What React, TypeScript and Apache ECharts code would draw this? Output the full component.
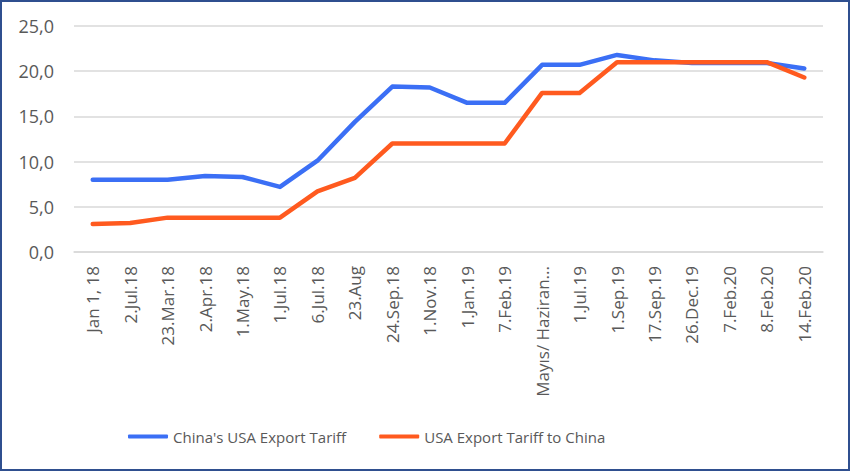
import React, { useEffect, useRef } from "react";
import * as echarts from "echarts";

const categories = [
  "Jan 1, 18", "2.Jul.18", "23.Mar.18", "2.Apr.18", "1.May.18", "1.Jul.18",
  "6.Jul.18", "23.Aug", "24.Sep.18", "1.Nov.18", "1.Jan.19", "7.Feb.19",
  "Mayıs/ Haziran...", "1.Jul.19", "1.Sep.19", "17.Sep.19", "26.Dec.19",
  "7.Feb.20", "8.Feb.20", "14.Feb.20",
];
const chinaTariff = [8.0, 8.0, 8.0, 8.4, 8.3, 7.2, 10.1, 14.4, 18.3, 18.2, 16.5, 16.5, 20.7, 20.7, 21.8, 21.2, 20.9, 20.9, 20.9, 20.3];
const usaTariff = [3.1, 3.2, 3.8, 3.8, 3.8, 3.8, 6.7, 8.2, 12.0, 12.0, 12.0, 12.0, 17.6, 17.6, 21.0, 21.0, 21.0, 21.0, 21.0, 19.3];
const seriesNames = ["China's USA Export Tariff", "USA Export Tariff to China"];

const FONT = "'Open Sans', sans-serif";

export default function App() {
  const ref = useRef<HTMLDivElement>(null);
  useEffect(() => {
    document.body.style.margin = "0";
    const chart = echarts.init(ref.current!, null, { renderer: "svg" });
    chart.setOption({
      animation: false,
      grid: { left: 74, right: 27, top: 26, bottom: 219, containLabel: false },
      legend: {
        bottom: 22,
        left: 123,
        icon: "roundRect",
        itemWidth: 40,
        itemHeight: 4,
        itemGap: 33,
        textStyle: { fontFamily: FONT, fontSize: 15, color: "#595959" },
        data: seriesNames,
      },
      xAxis: {
        type: "category",
        data: categories,
        boundaryGap: true,
        axisLine: { show: true, lineStyle: { color: "#d9d9d9", width: 1.5 } },
        axisTick: { show: false },
        axisLabel: {
          rotate: 90,
          interval: 0,
          margin: 14,
          fontFamily: FONT,
          fontSize: 17,
          color: "#595959",
        },
      },
      yAxis: {
        type: "value",
        min: 0,
        max: 25,
        interval: 5,
        axisLine: { show: false },
        axisTick: { show: false },
        splitLine: { lineStyle: { color: "#d9d9d9", width: 1.5 } },
        axisLabel: {
          margin: 20,
          fontFamily: FONT,
          fontSize: 18,
          color: "#595959",
          formatter: (v: number) => v.toFixed(1).replace(".", ","),
        },
      },
      series: [
        {
          name: seriesNames[0],
          type: "line",
          data: chinaTariff,
          symbol: "none",
          lineStyle: { color: "#3B6FF5", width: 4.5, cap: "round", join: "round" },
          itemStyle: { color: "#3B6FF5" },
        },
        {
          name: seriesNames[1],
          type: "line",
          data: usaTariff,
          symbol: "none",
          lineStyle: { color: "#FF5A1F", width: 4.5, cap: "round", join: "round" },
          itemStyle: { color: "#FF5A1F" },
        },
      ],
    });
    return () => chart.dispose();
  }, []);
  return (
    <div
      style={{
        position: "absolute",
        left: 0,
        top: 0,
        width: 850,
        height: 471,
        boxSizing: "border-box",
        border: "2px solid #2F4F8F",
        background: "#fff",
      }}
    >
      <div ref={ref} style={{ position: "absolute", left: -2, top: -2, width: 850, height: 471 }} />
    </div>
  );
}
